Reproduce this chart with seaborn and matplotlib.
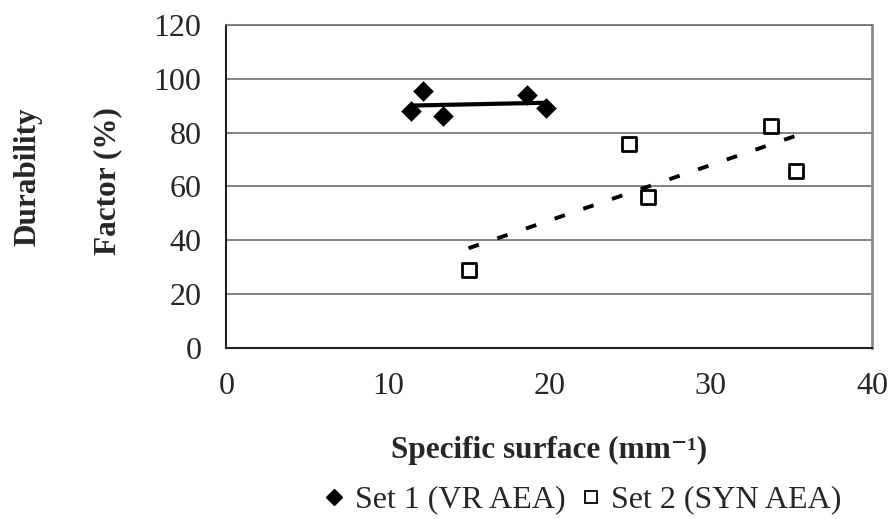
import matplotlib
matplotlib.use("Agg")
import matplotlib.pyplot as plt
import seaborn as sns
import pandas as pd
from matplotlib.lines import Line2D

set1_x = [11.45, 12.2, 13.4, 18.6, 19.8]
set1_y = [88.0, 95.5, 86.0, 94.0, 89.0]
set2_x = [15.0, 24.95, 26.1, 33.75, 35.3]
set2_y = [29.0, 75.8, 56.0, 82.5, 65.8]
labels = ["Set 1 (VR AEA)", "Set 2 (SYN AEA)"]
x_ticks = [0, 10, 20, 30, 40]
y_ticks = [0, 20, 40, 60, 80, 100, 120]

sns.set_style("white")
plt.rcParams["font.family"] = ["Liberation Serif", "DejaVu Serif"]

df1 = pd.DataFrame({"x": set1_x, "y": set1_y})
df2 = pd.DataFrame({"x": set2_x, "y": set2_y})

fig = plt.figure(figsize=(8.91, 5.19), dpi=100)
ax = fig.add_axes([0.254, 0.3295, 0.725, 0.6225])

for yv in y_ticks[1:]:
    ax.axhline(yv, color="#6e6e6e", lw=1.2, zorder=0)

sns.regplot(data=df1, x="x", y="y", ax=ax, ci=None, truncate=True, marker="D",
            scatter_kws=dict(s=110, color="black", edgecolor="black", linewidths=0, alpha=1, zorder=3),
            line_kws=dict(color="black", lw=3.0, zorder=2, solid_capstyle="butt"))
sns.regplot(data=df2, x="x", y="y", ax=ax, ci=None, truncate=True, marker="s",
            scatter_kws=dict(s=95, facecolors="white", edgecolors="black", linewidths=2.0, alpha=1, zorder=3),
            line_kws=dict(color="black", lw=2.8, ls=(0, (2.8, 5.0)), zorder=2))

ax.set_xlim(0, 40)
ax.set_ylim(0, 120)
ax.set_xticks(x_ticks)
ax.set_yticks(y_ticks)
ax.set_xlabel("")
ax.set_ylabel("")
ax.tick_params(axis="both", labelsize=23, direction="out", length=8, width=1.2, color="#333333", pad=10)
ax.tick_params(axis="x", pad=9)
for s in ["left", "bottom"]:
    ax.spines[s].set_color("#222222")
    ax.spines[s].set_linewidth(1.5)
ax.spines["right"].set_color("#8a8a8a")
ax.spines["right"].set_linewidth(2)
ax.spines["top"].set_color("#6e6e6e")
ax.spines["top"].set_linewidth(1.2)

fig.text(28 / 891, 1 - 177 / 519, "Durability", rotation=90, ha="center", va="center",
         fontsize=22.5, fontweight="bold")
fig.text(108 / 891, 1 - 181 / 519, "Factor (%)", rotation=90, ha="center", va="center",
         fontsize=22.5, fontweight="bold")
fig.text(549 / 891, 1 - 450 / 519, "Specific surface (mm\u207b\u00b9)", ha="center", va="center",
         fontsize=22.5, fontweight="bold")

handles = [
    Line2D([], [], marker="D", color="black", ls="none", markersize=8.5),
    Line2D([], [], marker="s", markerfacecolor="white", markeredgecolor="black",
           markeredgewidth=1.3, ls="none", markersize=9),
]
fig.legend(handles, labels, loc="center", bbox_to_anchor=(583 / 891, 1 - 500 / 519), ncol=2,
           frameon=False, fontsize=23, handlelength=0.6, handletextpad=0.35, columnspacing=0.5)

fig.savefig("out.png", dpi=100)
